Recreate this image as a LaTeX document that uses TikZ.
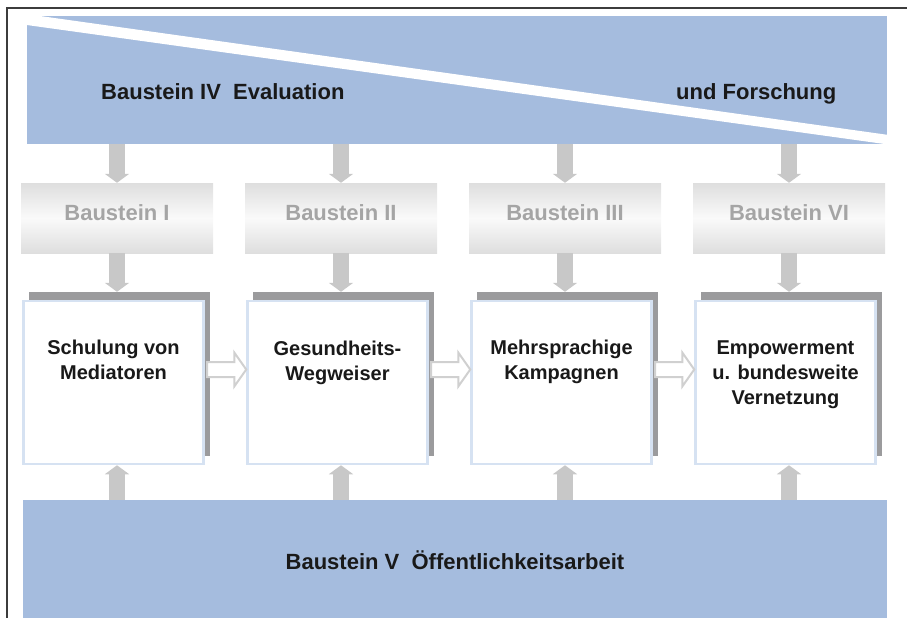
\documentclass[tikz,border=0pt]{standalone}
\usepackage{fontspec}
\setmainfont{Liberation Sans}
\usepackage{xcolor}
\usetikzlibrary{arrows.meta,calc}

\definecolor{bandblue}{RGB}{165,188,222}
\definecolor{arrowgray}{RGB}{200,200,200}
\definecolor{shadowgray}{RGB}{155,155,157}
\definecolor{taskblue}{RGB}{214,226,242}
\definecolor{blockgray}{RGB}{222,222,222}
\definecolor{labelgray}{RGB}{165,165,165}
\definecolor{flowgray}{RGB}{208,208,208}
\definecolor{framegray}{RGB}{60,60,60}

\begin{document}
\begin{tikzpicture}[x=1pt,y=-1pt]
		\tikzstyle{band}=[fill=bandblue, inner sep=0pt]
		\tikzstyle{band_text}=[font=\fontsize{22}{26}\selectfont\bfseries, text=black!90, text height=16pt, text depth=0pt, inner sep=0pt]
		\tikzstyle{block}=[top color=blockgray, bottom color=blockgray, middle color=black!2, minimum width=192pt, minimum height=70pt, inner sep=0pt]
		\tikzstyle{block_text}=[band_text, text=labelgray]
		\tikzstyle{task_shadow}=[fill=shadowgray, minimum width=181pt, minimum height=164pt, inner sep=0pt]
		\tikzstyle{task}=[draw=taskblue, line width=2.5pt, fill=white, minimum width=180pt, minimum height=163pt, inner sep=0pt]
		\tikzstyle{task_text}=[font=\fontsize{20}{25}\selectfont\bfseries, text=black!90, align=center, anchor=north, inner sep=0pt]
		\tikzstyle{gray_arrow}=[draw=arrowgray, line width=16pt, -{Triangle[width=24pt,length=9pt]}]
		\tikzstyle{flow}=[draw=flowgray, line width=2pt, fill=white, line join=miter]

		\useasboundingbox (0,0) rectangle (907,618);
		\draw[framegray, line width=1.5pt] (7,618) -- (7,8) -- (907,8);

		% Baustein IV
		\node [band, minimum width=860pt, minimum height=128pt] (eval) at (457,80) {};
		\fill[white] (26,15) -- (33,15) -- (888,134.9) -- (888,144.5) -- (26,24.9) -- cycle;
		\node [band_text, anchor=west] (evalA) at (101,91.5) {Baustein IV\ \ Evaluation};
		\node [band_text, anchor=west] (evalB) at (676,91.5) {und Forschung};

		% Baustein V
		\node [band, minimum width=864pt, minimum height=118pt] (pr) at (455,559) {};
		\node [band_text] (prA) at (455,561) {Baustein V\ \ Öffentlichkeitsarbeit};

		\begin{scope}[xshift=116pt]
			\node [block] (g1) at (1,218) {};
			\node [block_text] at ([yshift=6pt]g1.center) {Baustein I};
			\node [task_shadow] (s1) at (3.5,374) {};
			\node [task] (w1) at (-2.5,382.5) {};
			\node [task_text] at ([yshift=-40pt]w1.north) {Schulung von\\Mediatoren};
		\end{scope}

		\begin{scope}[xshift=340pt]
			\node [block] (g2) at (1,218) {};
			\node [block_text] at ([yshift=6pt]g2.center) {Baustein II};
			\node [task_shadow] (s2) at (3.5,374) {};
			\node [task] (w2) at (-2.5,382.5) {};
			\node [task_text] at ([yshift=-41pt]w2.north) {Gesundheits-\\Wegweiser};
		\end{scope}

		\begin{scope}[xshift=564pt]
			\node [block] (g3) at (1,218) {};
			\node [block_text] at ([yshift=6pt]g3.center) {Baustein III};
			\node [task_shadow] (s3) at (3.5,374) {};
			\node [task] (w3) at (-2.5,382.5) {};
			\node [task_text] at ([yshift=-40pt]w3.north) {Mehrsprachige\\Kampagnen};
		\end{scope}

		\begin{scope}[xshift=788pt]
			\node [block] (g4) at (1,218) {};
			\node [block_text] at ([yshift=6pt]g4.center) {Baustein VI};
			\node [task_shadow] (s4) at (3.5,374) {};
			\node [task] (w4) at (-2.5,382.5) {};
			\node [task_text] at ([yshift=-41pt]w4.north) {Empowerment\\u. bundesweite\\Vernetzung};
		\end{scope}

		% arrows
		\draw [gray_arrow] (eval.south -| g1) -- (g1.north);
		\draw [gray_arrow] (eval.south -| g2) -- (g2.north);
		\draw [gray_arrow] (eval.south -| g3) -- (g3.north);
		\draw [gray_arrow] (eval.south -| g4) -- (g4.north);

		\draw [gray_arrow] (g1.south) -- (g1 |- s1.north);
		\draw [gray_arrow] (g2.south) -- (g2 |- s2.north);
		\draw [gray_arrow] (g3.south) -- (g3 |- s3.north);
		\draw [gray_arrow] (g4.south) -- (g4 |- s4.north);

		\draw [gray_arrow] (pr.north -| g1) -- (g1 |- w1.south);
		\draw [gray_arrow] (pr.north -| g2) -- (g2 |- w2.south);
		\draw [gray_arrow] (pr.north -| g3) -- (g3 |- w3.south);
		\draw [gray_arrow] (pr.north -| g4) -- (g4 |- w4.south);

		\draw [flow] let \p1=(s1.east), \p2=(w2.west) in
			({\x1-3pt},{\y1+12pt}) -- ({\x2-12pt},{\y1+12pt}) -- ({\x2-12pt},{\y1+21.5pt}) -- (\x2,{\y1+4.5pt})
			-- ({\x2-12pt},{\y1-12.5pt}) -- ({\x2-12pt},{\y1-3pt}) -- ({\x1-3pt},{\y1-3pt}) -- cycle;
		\draw [flow] let \p1=(s2.east), \p2=(w3.west) in
			({\x1-3pt},{\y1+12pt}) -- ({\x2-12pt},{\y1+12pt}) -- ({\x2-12pt},{\y1+21.5pt}) -- (\x2,{\y1+4.5pt})
			-- ({\x2-12pt},{\y1-12.5pt}) -- ({\x2-12pt},{\y1-3pt}) -- ({\x1-3pt},{\y1-3pt}) -- cycle;
		\draw [flow] let \p1=(s3.east), \p2=(w4.west) in
			({\x1-3pt},{\y1+12pt}) -- ({\x2-12pt},{\y1+12pt}) -- ({\x2-12pt},{\y1+21.5pt}) -- (\x2,{\y1+4.5pt})
			-- ({\x2-12pt},{\y1-12.5pt}) -- ({\x2-12pt},{\y1-3pt}) -- ({\x1-3pt},{\y1-3pt}) -- cycle;
	\end{tikzpicture}
\end{document}
